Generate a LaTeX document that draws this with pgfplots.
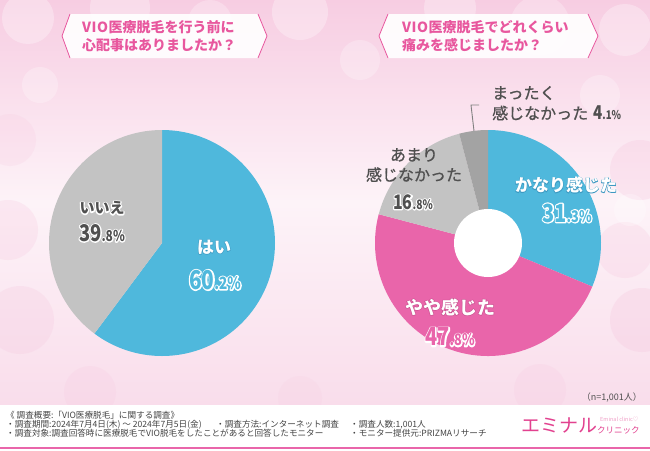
\documentclass[border=0pt]{standalone}
\usepackage{fontspec}
\setmainfont{Noto Sans CJK JP}
\newfontfamily\medfont[FakeBold=0.8]{Noto Sans CJK JP}
\newfontfamily\numfont[FakeStretch=0.8]{Noto Sans CJK JP}
\usepackage{pgfplots}
\pgfplotsset{compat=1.18}
\usepackage{pgfplotstable}

\definecolor{pieblue}{HTML}{4FB8DC}
\definecolor{piepink}{HTML}{E965AA}
\definecolor{pielgray}{HTML}{C3C3C3}
\definecolor{piedgray}{HTML}{A3A3A3}
\definecolor{titlepink}{HTML}{E8579E}
\definecolor{lblgray}{HTML}{505050}
\definecolor{bgtop}{HTML}{F7CDE2}
\definecolor{bgmid}{HTML}{FDF3F8}
\definecolor{bgbot}{HTML}{F9DDEB}
\definecolor{bgside}{HTML}{F6C6DE}
\definecolor{logopink}{HTML}{E2418F}
\definecolor{footgray}{HTML}{444444}

\newcommand\fs[1]{\fontsize{#1}{#1}\selectfont}
% outlined text: #1 = stroke colour as "r g b", #2 = stroke width (bp), #3 = text
\newcommand\outl[3]{\leavevmode\rlap{\special{pdf:literal direct 1 Tr #2 w 1 j #1 RG}#3\special{pdf:literal direct 0 Tr}}#3}

\pgfplotstableread{
label value
hai 60.2
iie 39.8
}\tblA
\pgfplotstableread{
label value
kanari 31.3
yaya 47.8
amari 16.8
mattaku 4.1
}\tblB

\pgfplotstablegetelem{0}{value}\of\tblA \edef\aYes{\pgfplotsretval}
\pgfplotstablegetelem{1}{value}\of\tblA \edef\aNo{\pgfplotsretval}
\pgfplotstablegetelem{0}{value}\of\tblB \edef\bA{\pgfplotsretval}
\pgfplotstablegetelem{1}{value}\of\tblB \edef\bB{\pgfplotsretval}
\pgfplotstablegetelem{2}{value}\of\tblB \edef\bC{\pgfplotsretval}
\pgfplotstablegetelem{3}{value}\of\tblB \edef\bD{\pgfplotsretval}
\pgfmathsetmacro\sA{90}
\pgfmathsetmacro\sB{90-3.6*\bA}
\pgfmathsetmacro\sC{90-3.6*(\bA+\bB)}
\pgfmathsetmacro\sD{90-3.6*(\bA+\bB+\bC)}

\begin{document}
\begin{tikzpicture}
\begin{axis}[name=ax,x=1pt,y=1pt,xmin=0,xmax=650,ymin=0,ymax=450,y dir=reverse,
  hide axis,clip=false]
% background
\begin{scope}
\clip (0,0) rectangle (650,450);
\shade[top color=bgtop, bottom color=bgbot, middle color=bgmid] (0,0) rectangle (650,405);
\fill[bgside,opacity=0.25] (8,230) circle[radius=30pt];
\fill[bgside,opacity=0.25] (20,320) circle[radius=34pt];
\fill[bgside,opacity=0.2] (10,140) circle[radius=26pt];
\fill[bgside,opacity=0.3] (640,170) circle[radius=30pt];
\fill[bgside,opacity=0.25] (625,250) circle[radius=28pt];
\fill[bgside,opacity=0.3] (642,320) circle[radius=32pt];
\fill[bgside,opacity=0.2] (90,392) circle[radius=26pt];
\fill[bgside,opacity=0.15] (300,398) circle[radius=22pt];
\fill[bgside,opacity=0.2] (540,390) circle[radius=26pt];
\fill[white,opacity=0.3] (28,18) circle[radius=26pt];
\fill[white,opacity=0.3] (120,8) circle[radius=30pt];
\fill[white,opacity=0.25] (210,22) circle[radius=22pt];
\fill[white,opacity=0.3] (300,12) circle[radius=28pt];
\fill[white,opacity=0.25] (360,60) circle[radius=20pt];
\fill[white,opacity=0.3] (450,8) circle[radius=26pt];
\fill[white,opacity=0.25] (540,25) circle[radius=30pt];
\fill[white,opacity=0.3] (625,30) circle[radius=26pt];
\fill[white,opacity=0.25] (600,95) circle[radius=20pt];
\fill[white,opacity=0.25] (40,85) circle[radius=18pt];
\fill[white,opacity=0.25] (630,210) circle[radius=16pt];
\end{scope}
% title boxes
\fill[white,opacity=0.92] (70,14) -- (258,14) -- (267,36) -- (258,58) -- (70,58) -- (62,36) -- cycle;
\draw[titlepink,line width=0.8pt] (70,14) -- (62,36) -- (70,58);
\draw[titlepink,line width=0.8pt] (258,14) -- (267,36) -- (258,58);
\node[anchor=west,inner sep=0,align=left,text=titlepink,font={\fontsize{14}{18.5}\selectfont\bfseries}] at (82,36) {V\kern0.5ptI\kern0.5ptO\kern0.5pt医療脱毛を行う前に\\心配事はありましたか？};
\fill[white,opacity=0.92] (388,14) -- (588,14) -- (598,36) -- (588,58) -- (388,58) -- (379,36) -- cycle;
\draw[titlepink,line width=0.8pt] (388,14) -- (379,36) -- (388,58);
\draw[titlepink,line width=0.8pt] (588,14) -- (598,36) -- (588,58);
\node[anchor=west,inner sep=0,align=left,text=titlepink,font={\fontsize{14}{18.5}\selectfont\bfseries}] at (402,36) {V\kern0.5ptI\kern0.5ptO\kern0.5pt医療脱毛でどれくらい\\痛みを感じましたか？};
% pie 1
\fill[pieblue] (162,243) -- ++(90:113pt) arc[start angle=90, delta angle={-3.6*\aYes}, radius=113pt] -- cycle;
\fill[pielgray] (162,243) -- ++(90:113pt) arc[start angle=90, delta angle={3.6*\aNo}, radius=113pt] -- cycle;
% pie 2 (donut)
\fill[pieblue] (488,243) -- ++(\sA:113pt) arc[start angle=\sA, delta angle={-3.6*\bA}, radius=113pt] -- cycle;
\fill[piepink] (488,243) -- ++(\sB:113pt) arc[start angle=\sB, delta angle={-3.6*\bB}, radius=113pt] -- cycle;
\fill[pielgray] (488,243) -- ++(\sC:113pt) arc[start angle=\sC, delta angle={-3.6*\bC}, radius=113pt] -- cycle;
\fill[piedgray] (488,243) -- ++(\sD:113pt) arc[start angle=\sD, delta angle={-3.6*\bD}, radius=113pt] -- cycle;
\fill[white] (488,243) circle[radius=34pt];
% leader
\draw[gray,line width=0.9pt] (474,131) -- (471,105) -- (479,105);
% labels pie 1
\node[text=lblgray,font=\fs{15}\bfseries] at (102,208) {\outl{1 1 1}{2.4}{いいえ}};
\node[text=lblgray,font=\numfont\bfseries] at (102,233) {\outl{1 1 1}{2.4}{\fs{23}39\fs{15}.8\%}};
\node[text=white,font=\fs{17}\bfseries] at (214,247) {\outl{0.24 0.6 0.76}{1.0}{はい}};
\node[text=pieblue,font=\numfont\bfseries] at (215,280) {\outl{1 1 1}{2.6}{\fs{26}60\fs{17}.2\%}};
% labels pie 2
\node[text=white,font=\fs{17}\bfseries] at (566,185) {\outl{0.24 0.6 0.76}{1.0}{かなり感じた}};
\node[text=pieblue,font=\numfont\bfseries] at (567,213) {\outl{1 1 1}{2.6}{\fs{25}31\fs{16}.3\%}};
\node[text=white,font=\fs{18}\bfseries] at (450,307) {\outl{0.78 0.3 0.55}{1.0}{やや感じた}};
\node[text=piepink,font=\numfont\bfseries] at (450,337) {\outl{1 1 1}{2.6}{\fs{25}47\fs{16}.8\%}};
\node[text=lblgray,align=center,font={\fontsize{16}{20}\selectfont\medfont}] at (414,165) {あまり\\感じなかった};
\node[text=lblgray,font=\numfont\bfseries] at (413,202) {\outl{1 1 1}{2.4}{\fs{20}16\fs{13}.8\%}};
\node[anchor=west,text=lblgray,font=\fs{16}\medfont,inner sep=0] at (492,93) {まったく};
\node[anchor=west,text=lblgray,font=\fs{16}\medfont,inner sep=0] at (492,113) {感じなかった};
\node[anchor=west,text=lblgray,font=\numfont\bfseries,inner sep=0] at (593,113) {\fs{19}4\fs{12}.1\%};
% n
\node[anchor=east,text=lblgray,font=\fs{9},inner sep=0] at (642,397) {（n=1,001人）};
% footer
\fill[white] (0,405) rectangle (650,450);
\draw[piepink,line width=1.5pt] (0,448) -- (650,448);
\node[anchor=west,text=footgray,font=\fs{8.6},inner sep=0] at (6,415.5) {《 調査概要:「VIO医療脱毛」に関する調査》};
\node[anchor=west,text=footgray,font=\fs{8.6},inner sep=0] at (6,424.5) {・調査期間:2024年7月4日(木) ～ 2024年7月5日(金)};
\node[anchor=west,text=footgray,font=\fs{8.6},inner sep=0] at (216,424.5) {・調査方法:インターネット調査};
\node[anchor=west,text=footgray,font=\fs{8.6},inner sep=0] at (350,424.5) {・調査人数:1,001人};
\node[anchor=west,text=footgray,font=\fs{8.6},inner sep=0] at (6,433.5) {・調査対象:調査回答時に医療脱毛でVIO脱毛をしたことがあると回答したモニター};
\node[anchor=west,text=footgray,font=\fs{8.6},inner sep=0] at (350,433.5) {・モニター提供元:PRIZMAリサーチ};
% logo
\node[anchor=west,text=logopink,font=\fs{19},inner sep=0] at (521,425.5) {エミナル};
\node[anchor=west,text=logopink,font=\fs{8.5},inner sep=0] at (597,430) {クリニック};
\node[anchor=west,text=logopink!50,font=\fs{5.5},inner sep=0] at (600,419.5) {Eminal clinic♡};
\end{axis}
\pgfresetboundingbox
\path[use as bounding box] (ax.south west) rectangle (ax.north east);
\end{tikzpicture}
\end{document}
